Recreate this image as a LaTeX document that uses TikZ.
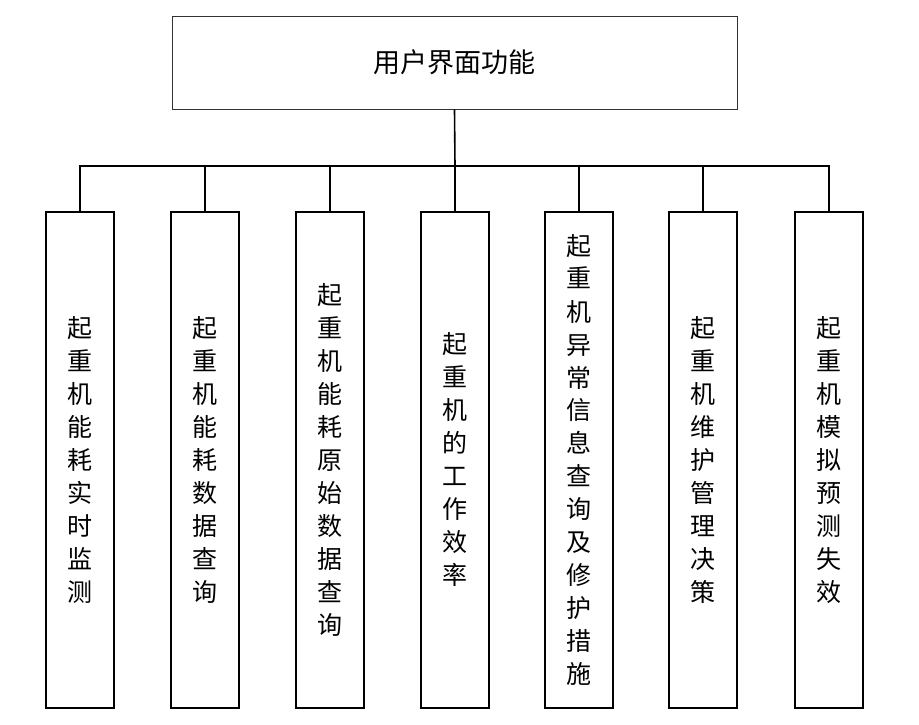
\documentclass[tikz,border=0pt]{standalone}
\usepackage{fontspec}
\newfontfamily\cjk{Noto Sans CJK SC}
\begin{document}
\begin{tikzpicture}[x=1pt,y=-1pt,
    topbox/.style={draw=black!80,line width=1pt,minimum width=565pt,minimum height=93pt,
        inner sep=0pt,font=\cjk\fontsize{27}{30}\selectfont},
    itembox/.style={draw,line width=1.6pt,minimum width=68pt,minimum height=496pt,
        inner sep=0pt,align=center,font=\cjk\fontsize{25}{33}\selectfont},
    link/.style={line width=1.6pt}]
    \useasboundingbox (0,0) rectangle (919,724);
    \node[topbox] (top) at (454.5,62.5) {用户界面功能};
    \coordinate (bus) at (455,166);
    \foreach \i/\x/\txt in {
        1/80/{起\\重\\机\\能\\耗\\实\\时\\监\\测},
        2/205/{起\\重\\机\\能\\耗\\数\\据\\查\\询},
        3/330/{起\\重\\机\\能\\耗\\原\\始\\数\\据\\查\\询},
        4/455/{起\\重\\机\\的\\工\\作\\效\\率},
        5/579/{起\\重\\机\\异\\常\\信\\息\\查\\询\\及\\修\\护\\措\\施},
        6/703/{起\\重\\机\\维\\护\\管\\理\\决\\策},
        7/829/{起\\重\\机\\模\\拟\\预\\测\\失\\效}} {
        \node[itembox] (item\i) at (\x,460) {\txt};
        \draw[link] (item\i.north) -- (item\i.north |- bus);
    }
    \draw[link] (top.south) -- (bus);
    \draw[link,line cap=rect] (item1.north |- bus) -- (item7.north |- bus);
\end{tikzpicture}
\end{document}
